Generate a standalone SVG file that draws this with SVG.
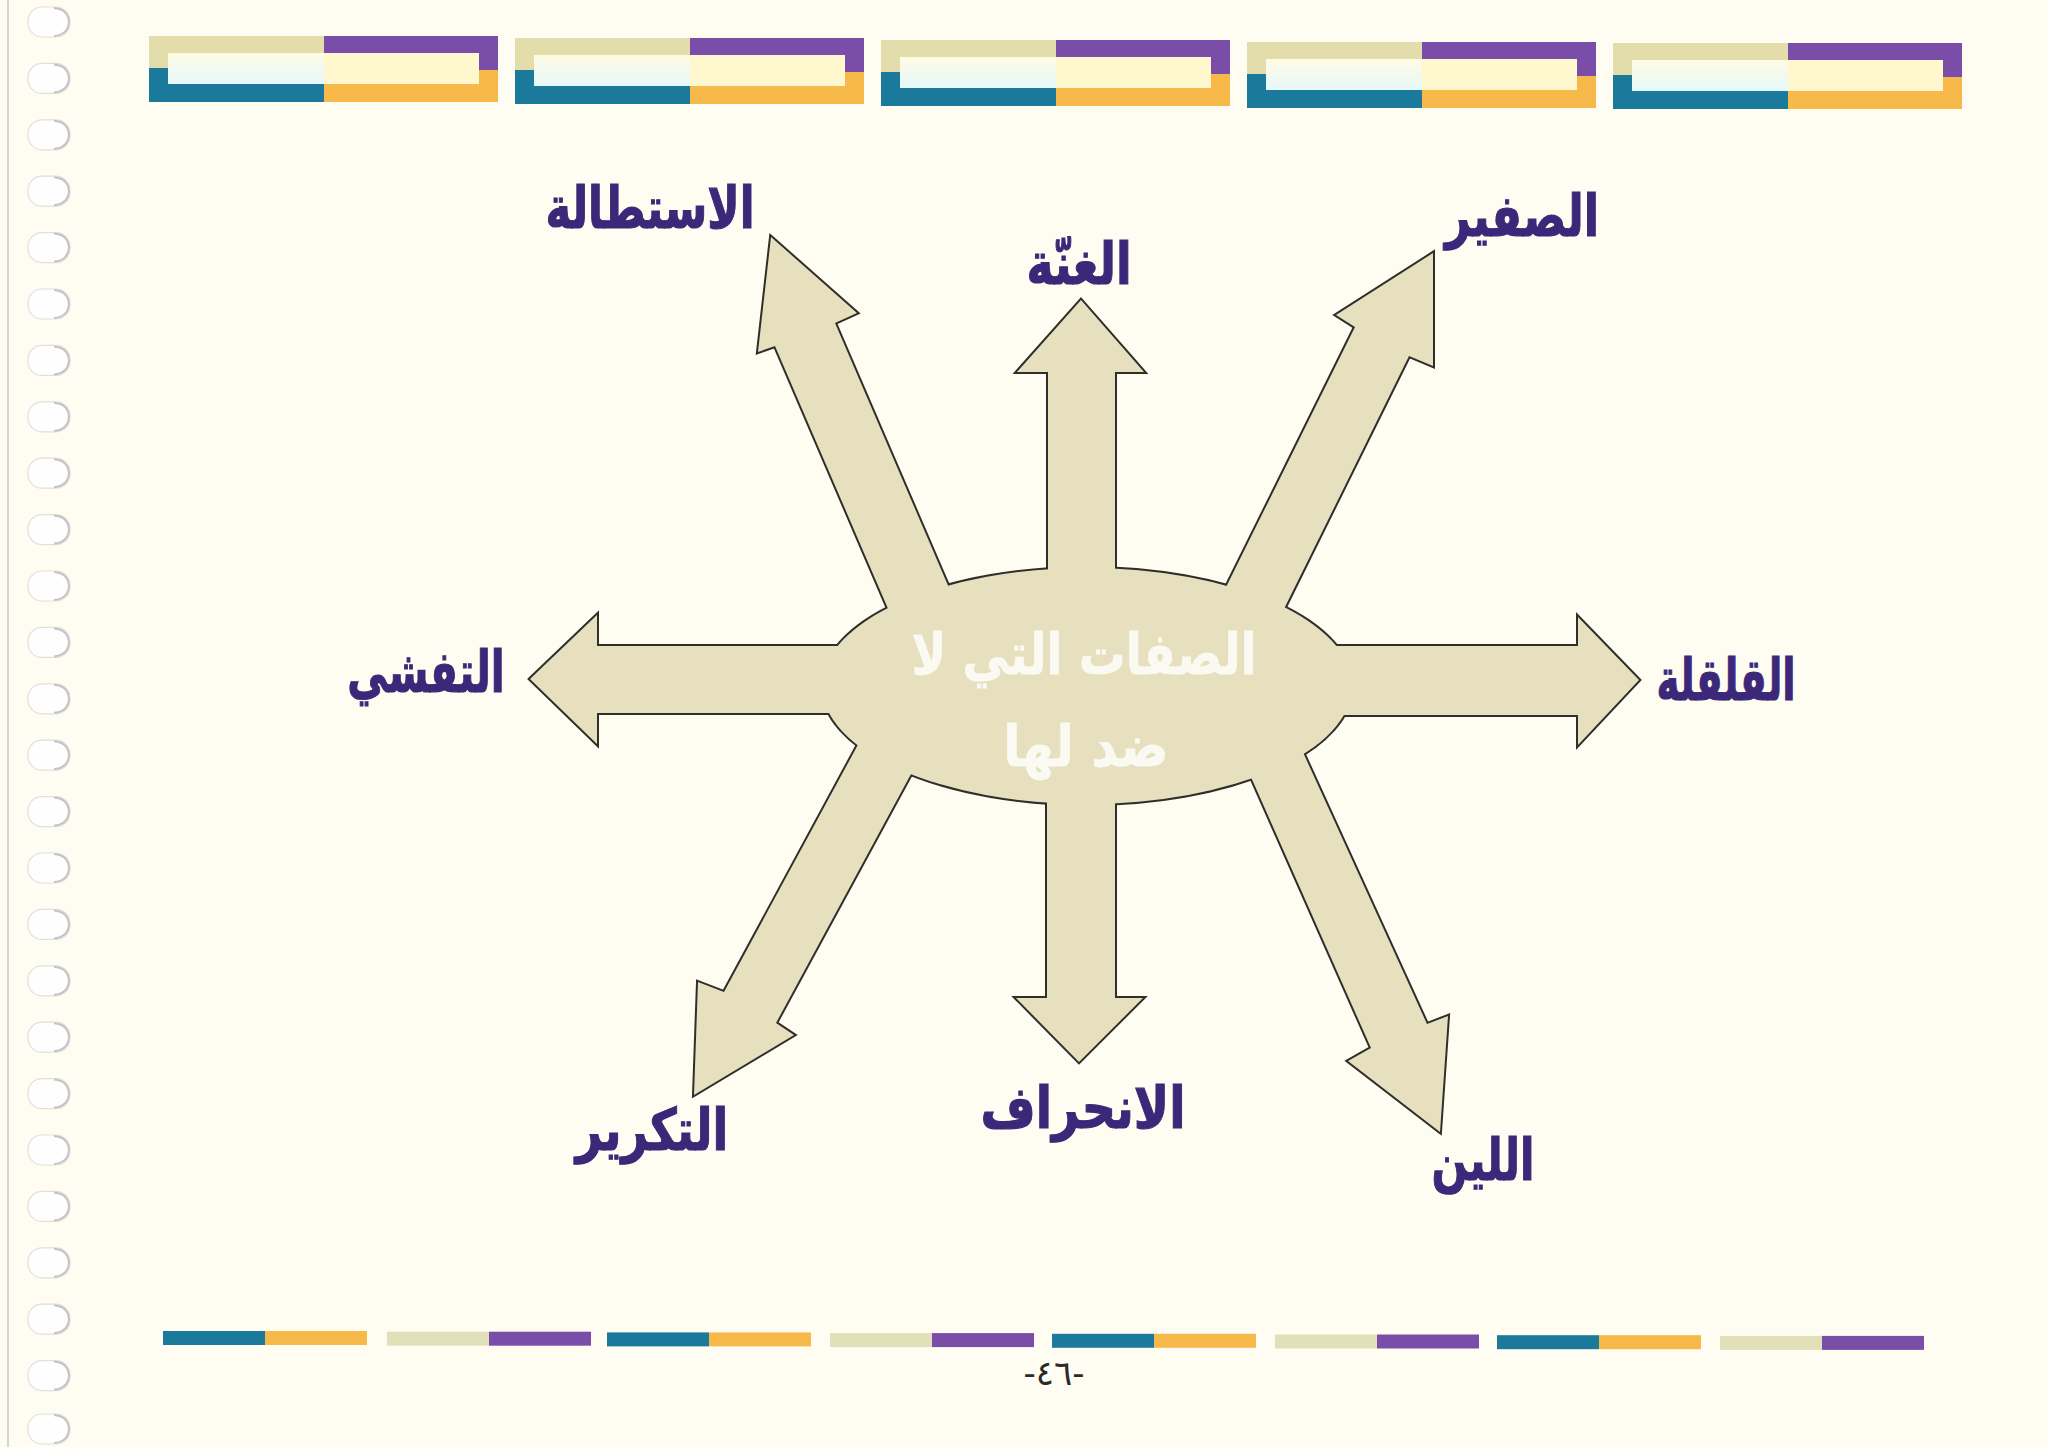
<svg xmlns="http://www.w3.org/2000/svg" xmlns:xlink="http://www.w3.org/1999/xlink" width="2048" height="1447" viewBox="0 0 2048 1447">
<style>
.lbl{font-family:"DejaVu Sans",sans-serif;font-weight:bold;fill:#3c2878;stroke:#3c2878;stroke-width:1.2;text-anchor:middle;font-size:58px}
.ctr{font-family:"DejaVu Sans",sans-serif;font-weight:bold;fill:#fbfaf2;stroke:#fbfaf2;stroke-width:0.8;text-anchor:middle;font-size:57px}
.pg{font-family:"DejaVu Sans",sans-serif;fill:#2a2a2a;text-anchor:middle;font-size:34px}
.hole{fill:#fefefe;stroke:#e0e0dc;stroke-width:1.2}
.holeedge{fill:none;stroke:#c4c4c4;stroke-width:2}
.outl{fill:#e6e0bf;stroke:#2e2e2a;stroke-width:4;stroke-linejoin:miter}
.fillo{fill:#e6e0bf;stroke:none}
.bg{fill:#e3dcab}.pu{fill:#7a4ea8}.te{fill:#1b7a9c}.or{fill:#f8b94b}
.bb{fill:#e2e0b8}
.inR{fill:#fff8cf}
</style>
<defs>
<linearGradient id="inL" x1="0" y1="0" x2="0" y2="1">
<stop offset="0" stop-color="#fffbe3"/>
<stop offset="1" stop-color="#e6f8fb"/>
</linearGradient>
<g id="hl">
<rect class="hole" x="28" y="0" width="42" height="30" rx="14"/>
<path class="holeedge" d="M54,1 Q68,2 69,15 Q68,28 54,29"/>
</g>
<polygon id="aUp" points="1081,300 1144,372 1115,372 1115,690 1048,690 1048,372 1017,372"/>
<polygon id="aDown" points="1047,680 1115,680 1115,998 1143,998 1079,1062 1016,998 1047,998"/>
<polygon id="aLeft" points="530,679 597,615 597,646 1087,646 1087,713 597,713 597,744"/>
<polygon id="aRight" points="1639,680 1578,617 1578,646 1087,646 1087,715 1578,715 1578,745"/>
<polygon id="aUL" points="771,237 857,313 835,323 993,690 923,690 775,346 758,352"/>
<polygon id="aUR" points="1433,253 1433,366 1409,356 1244,690 1175,690 1355,327 1336,315"/>
<polygon id="aLL" points="694,1095 698,982 724,992 893,680 962,680 776,1023 794,1035"/>
<polygon id="aLR" points="1440,1132 1348,1061 1371,1048 1208,680 1270,680 1427,1024 1448,1016"/>
<ellipse id="core" cx="1087" cy="686" rx="265" ry="118"/>
</defs>
<rect x="0" y="0" width="2048" height="1447" fill="#fffdf1"/>
<line x1="8" y1="0" x2="8" y2="1447" stroke="#d6d6d0" stroke-width="2"/>
<g id="holes">
<use xlink:href="#hl" y="7"/><use xlink:href="#hl" y="63.4"/><use xlink:href="#hl" y="119.8"/><use xlink:href="#hl" y="176.2"/>
<use xlink:href="#hl" y="232.6"/><use xlink:href="#hl" y="289"/><use xlink:href="#hl" y="345.4"/><use xlink:href="#hl" y="401.8"/>
<use xlink:href="#hl" y="458.2"/><use xlink:href="#hl" y="514.6"/><use xlink:href="#hl" y="571"/><use xlink:href="#hl" y="627.4"/>
<use xlink:href="#hl" y="683.8"/><use xlink:href="#hl" y="740.2"/><use xlink:href="#hl" y="796.6"/><use xlink:href="#hl" y="853"/>
<use xlink:href="#hl" y="909.4"/><use xlink:href="#hl" y="965.8"/><use xlink:href="#hl" y="1022.2"/><use xlink:href="#hl" y="1078.6"/>
<use xlink:href="#hl" y="1135"/><use xlink:href="#hl" y="1191.4"/><use xlink:href="#hl" y="1247.8"/><use xlink:href="#hl" y="1304.2"/>
<use xlink:href="#hl" y="1360.6"/><use xlink:href="#hl" y="1414"/>
</g>
<g id="top-frames">
<g transform="translate(149,36)">
<rect class="bg" x="0" y="0" width="175" height="32"/><rect class="pu" x="175" y="0" width="174" height="34"/>
<rect class="te" x="0" y="32" width="175" height="34"/><rect class="or" x="175" y="34" width="174" height="32"/>
<rect fill="url(#inL)" x="19" y="17" width="156" height="31"/><rect class="inR" x="175" y="17" width="155" height="31"/>
</g>
<g transform="translate(515,38)">
<rect class="bg" x="0" y="0" width="175" height="32"/><rect class="pu" x="175" y="0" width="174" height="34"/>
<rect class="te" x="0" y="32" width="175" height="34"/><rect class="or" x="175" y="34" width="174" height="32"/>
<rect fill="url(#inL)" x="19" y="17" width="156" height="31"/><rect class="inR" x="175" y="17" width="155" height="31"/>
</g>
<g transform="translate(881,40)">
<rect class="bg" x="0" y="0" width="175" height="32"/><rect class="pu" x="175" y="0" width="174" height="34"/>
<rect class="te" x="0" y="32" width="175" height="34"/><rect class="or" x="175" y="34" width="174" height="32"/>
<rect fill="url(#inL)" x="19" y="17" width="156" height="31"/><rect class="inR" x="175" y="17" width="155" height="31"/>
</g>
<g transform="translate(1247,42)">
<rect class="bg" x="0" y="0" width="175" height="32"/><rect class="pu" x="175" y="0" width="174" height="34"/>
<rect class="te" x="0" y="32" width="175" height="34"/><rect class="or" x="175" y="34" width="174" height="32"/>
<rect fill="url(#inL)" x="19" y="17" width="156" height="31"/><rect class="inR" x="175" y="17" width="155" height="31"/>
</g>
<g transform="translate(1613,43)">
<rect class="bg" x="0" y="0" width="175" height="32"/><rect class="pu" x="175" y="0" width="174" height="34"/>
<rect class="te" x="0" y="32" width="175" height="34"/><rect class="or" x="175" y="34" width="174" height="32"/>
<rect fill="url(#inL)" x="19" y="17" width="156" height="31"/><rect class="inR" x="175" y="17" width="155" height="31"/>
</g>
</g>
<g id="bottom-bar">
<rect class="te" x="163" y="1331" width="102" height="14"/><rect class="or" x="265" y="1331" width="102" height="14"/>
<rect class="bb" x="387" y="1331.7" width="102" height="14"/><rect class="pu" x="489" y="1331.7" width="102" height="14"/>
<rect class="te" x="607" y="1332.4" width="102" height="14"/><rect class="or" x="709" y="1332.4" width="102" height="14"/>
<rect class="bb" x="830" y="1333.1" width="102" height="14"/><rect class="pu" x="932" y="1333.1" width="102" height="14"/>
<rect class="te" x="1052" y="1333.8" width="102" height="14"/><rect class="or" x="1154" y="1333.8" width="102" height="14"/>
<rect class="bb" x="1275" y="1334.5" width="102" height="14"/><rect class="pu" x="1377" y="1334.5" width="102" height="14"/>
<rect class="te" x="1497" y="1335.2" width="102" height="14"/><rect class="or" x="1599" y="1335.2" width="102" height="14"/>
<rect class="bb" x="1720" y="1335.9" width="102" height="14"/><rect class="pu" x="1822" y="1335.9" width="102" height="14"/>
</g>
<g id="connectors">
<use xlink:href="#aUp" class="outl"/>
<use xlink:href="#aDown" class="outl"/>
<use xlink:href="#aLeft" class="outl"/>
<use xlink:href="#aRight" class="outl"/>
<use xlink:href="#aUL" class="outl"/>
<use xlink:href="#aUR" class="outl"/>
<use xlink:href="#aLL" class="outl"/>
<use xlink:href="#aLR" class="outl"/>
<use xlink:href="#core" class="outl"/>
<use xlink:href="#aUp" class="fillo"/>
<use xlink:href="#aDown" class="fillo"/>
<use xlink:href="#aLeft" class="fillo"/>
<use xlink:href="#aRight" class="fillo"/>
<use xlink:href="#aUL" class="fillo"/>
<use xlink:href="#aUR" class="fillo"/>
<use xlink:href="#aLL" class="fillo"/>
<use xlink:href="#aLR" class="fillo"/>
<use xlink:href="#core" class="fillo"/>
</g>
<g id="center">
<text class="ctr" transform="translate(1084,674) scale(0.82,1)">الصفات التي لا</text>
<text class="ctr" transform="translate(1086,766) scale(0.88,1)">ضد لها</text>
</g>
<g id="n-istitala"><text class="lbl" transform="translate(650,228) scale(0.75,1)">الاستطالة</text></g>
<g id="n-ghunna"><text class="lbl" transform="translate(1079,284) scale(0.79,1)">الغنّة</text></g>
<g id="n-safir"><text class="lbl" transform="translate(1522,236) scale(0.77,1)">الصفير</text></g>
<g id="n-tafashshi"><text class="lbl" transform="translate(426,692) scale(0.70,1)">التفشي</text></g>
<g id="n-qalqala"><text class="lbl" transform="translate(1726,700) scale(0.67,1)">القلقلة</text></g>
<g id="n-takrir"><text class="lbl" transform="translate(652,1150) scale(0.79,1)">التكرير</text></g>
<g id="n-inhiraf"><text class="lbl" transform="translate(1083,1128) scale(0.82,1)">الانحراف</text></g>
<g id="n-lin"><text class="lbl" transform="translate(1483,1180) scale(0.73,1)">اللين</text></g>
<g id="page-number"><text class="pg" x="1054" y="1385">-٤٦-</text></g>
</svg>
